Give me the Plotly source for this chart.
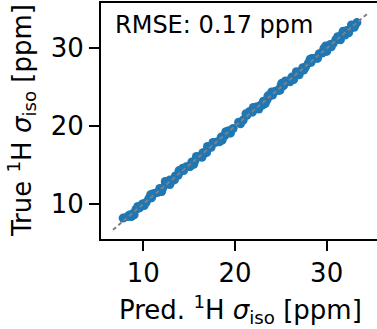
import plotly.graph_objects as go

pred = [7.8, 8.3, 8.5, 8.9, 9.2, 9.6, 9.9, 10.3, 10.6, 10.9, 11.3, 11.6, 11.8, 12.1, 12.4, 12.7, 12.9,
        13.2, 13.5, 13.8, 14.1, 14.4, 14.7, 15.0, 15.3, 15.6, 15.9, 16.2, 16.5, 16.8, 17.1, 17.4, 17.8,
        18.1, 18.5, 18.9, 19.3, 19.8, 20.4, 20.9, 21.3, 21.9, 22.4, 22.8, 23.1, 23.5, 23.8, 24.1, 24.4,
        24.7, 25.0, 25.3, 25.6, 25.9, 26.2, 26.5, 26.8, 27.1, 27.4, 27.7, 28.0, 28.3, 28.6, 28.9, 29.2,
        29.5, 29.8, 30.1, 30.4, 30.7, 31.0, 31.3, 31.6, 31.9, 32.2, 32.5, 32.8, 33.1, 33.3,
        12.4, 12.9, 16.4, 18.6, 21.2, 22.6, 24.0, 27.0, 29.9, 31.5,
        8.7, 9.4, 10.1, 11.0, 11.9, 12.6, 13.4, 14.3, 15.1, 15.8, 16.9, 17.6, 18.3, 19.0, 20.6, 21.6,
        23.0, 23.6, 24.9, 25.5, 26.0, 26.7, 27.5, 28.4, 29.0, 29.7, 30.5, 31.2, 32.0, 32.7, 33.0,
        9.0, 10.8, 12.0, 13.9, 15.5, 17.0, 19.5, 22.0, 23.3, 25.1, 26.4, 28.2, 30.0, 31.8, 32.4]
true = [8.2, 8.4, 8.6, 8.8, 9.3, 9.5, 10.0, 10.2, 10.7, 10.8, 11.4, 11.5, 12.0, 12.0, 12.5, 12.6, 13.1,
        13.1, 13.6, 13.7, 14.2, 14.3, 14.8, 14.9, 15.4, 15.5, 16.0, 16.1, 16.6, 16.7, 17.2, 17.3, 17.9,
        18.0, 18.6, 18.8, 19.4, 19.7, 20.5, 20.8, 21.4, 21.8, 22.5, 22.7, 23.2, 23.4, 23.9, 24.0, 24.5,
        24.6, 25.1, 25.2, 25.7, 25.8, 26.3, 26.4, 26.9, 27.0, 27.5, 27.6, 28.1, 28.2, 28.7, 28.8, 29.3,
        29.4, 29.9, 30.0, 30.5, 30.6, 31.1, 31.2, 31.7, 31.8, 32.3, 32.4, 32.9, 33.0, 33.3,
        12.9, 12.5, 16.0, 18.2, 21.6, 22.2, 24.4, 26.6, 30.3, 31.1,
        8.4, 9.7, 9.8, 11.3, 11.6, 12.9, 13.1, 14.6, 14.8, 16.1, 16.6, 17.9, 18.0, 19.3, 20.3, 21.9,
        22.7, 23.9, 24.6, 25.8, 25.7, 27.0, 27.2, 28.7, 28.7, 30.0, 30.2, 31.5, 31.7, 33.0, 32.7,
        8.6, 11.2, 11.6, 14.3, 15.1, 17.4, 19.1, 22.4, 22.9, 25.5, 26.0, 28.6, 29.6, 32.2, 32.0]
diag = [6.7, 34.4]
rmse_text = "RMSE: 0.17 ppm"
xticks = [10, 20, 30]
yticks = [10, 20, 30]

font = dict(family="DejaVu Sans", size=26, color="black")
rmse_font = dict(family="DejaVu Sans", size=24, color="black")

fig = go.Figure()
fig.add_trace(go.Scatter(x=pred, y=true, mode="markers",
                         marker=dict(color="#1f77b4", size=9, line=dict(width=0)),
                         showlegend=False))
fig.add_trace(go.Scatter(x=diag, y=diag, mode="lines",
                         line=dict(color="gray", width=2, dash="4px,3px"),
                         showlegend=False))

fig.update_layout(
    width=377, height=329,
    margin=dict(l=101, r=0, t=3, b=90),
    plot_bgcolor="white", paper_bgcolor="white",
    font=font,
    xaxis=dict(range=[5.39, 35.49], tickvals=xticks, showgrid=False, zeroline=False,
               showline=True, mirror=True, linecolor="black", linewidth=2,
               ticks="outside", ticklen=10, tickwidth=2, tickcolor="black",
               tickfont=font),
    yaxis=dict(range=[5.51, 35.82], tickvals=yticks, showgrid=False, zeroline=False,
               showline=True, mirror=False, linecolor="black", linewidth=2,
               ticks="outside", ticklen=10, tickwidth=2, tickcolor="black",
               tickfont=font),
)
fig.add_annotation(text=rmse_text, xref="paper", yref="paper", x=(113 - 101) / 276, y=1 - 6 / 236,
                   xanchor="left", yanchor="top", showarrow=False, font=rmse_font)
fig.add_annotation(text="Pred. <sup>1</sup>H <i>σ</i><sub>iso</sub> [ppm]", xref="paper", yref="paper",
                   x=(240 - 101) / 276, y=(239 - 309) / 236, xanchor="center", yanchor="middle",
                   showarrow=False, font=font)
fig.add_annotation(text="True <sup>1</sup>H <i>σ</i><sub>iso</sub> [ppm]", xref="paper", yref="paper",
                   x=(21 - 101) / 276, y=0.5, xanchor="center", yanchor="middle", textangle=-90,
                   showarrow=False, font=font)

fig.write_html("out.html")
